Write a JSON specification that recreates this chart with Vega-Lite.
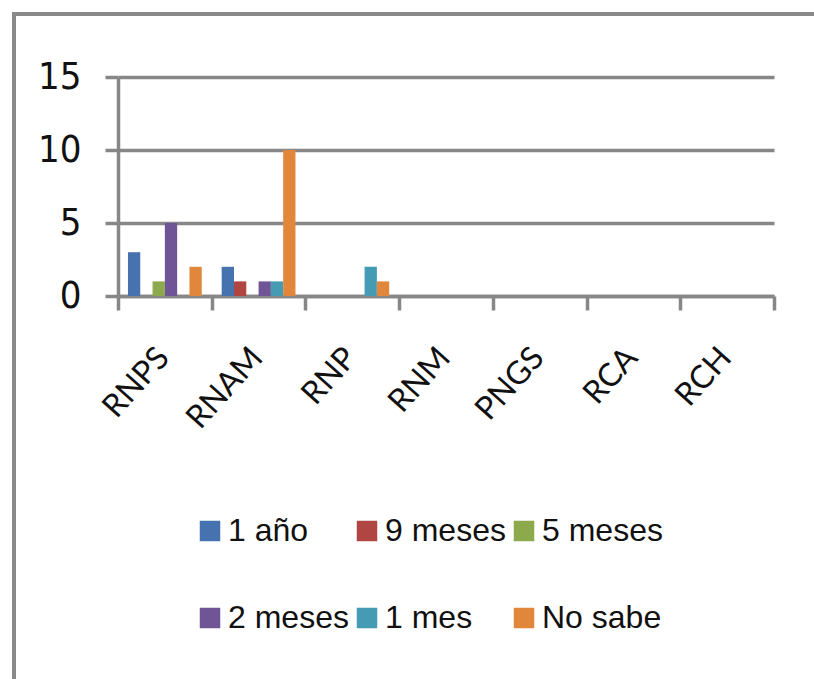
{
  "$schema": "https://vega.github.io/schema/vega-lite/v6.json",
  "autosize": "none",
  "width": 656,
  "height": 219,
  "padding": {"left": 118, "top": 77, "right": 40, "bottom": 383},
  "background": "#ffffff",
  "config": {
    "view": {"stroke": null},
    "axis": {"labelColor": "#111111"},
    "legend": {"strokeWidth": 4}
  },
  "data": {
    "values": [
      {"registro": "RNPS", "periodo": "1 año", "n": 3},
      {"registro": "RNPS", "periodo": "9 meses", "n": 0},
      {"registro": "RNPS", "periodo": "5 meses", "n": 1},
      {"registro": "RNPS", "periodo": "2 meses", "n": 5},
      {"registro": "RNPS", "periodo": "1 mes", "n": 0},
      {"registro": "RNPS", "periodo": "No sabe", "n": 2},
      {"registro": "RNAM", "periodo": "1 año", "n": 2},
      {"registro": "RNAM", "periodo": "9 meses", "n": 1},
      {"registro": "RNAM", "periodo": "5 meses", "n": 0},
      {"registro": "RNAM", "periodo": "2 meses", "n": 1},
      {"registro": "RNAM", "periodo": "1 mes", "n": 1},
      {"registro": "RNAM", "periodo": "No sabe", "n": 10},
      {"registro": "RNP", "periodo": "1 año", "n": 0},
      {"registro": "RNP", "periodo": "9 meses", "n": 0},
      {"registro": "RNP", "periodo": "5 meses", "n": 0},
      {"registro": "RNP", "periodo": "2 meses", "n": 0},
      {"registro": "RNP", "periodo": "1 mes", "n": 2},
      {"registro": "RNP", "periodo": "No sabe", "n": 1},
      {"registro": "RNM", "periodo": "1 año", "n": 0},
      {"registro": "RNM", "periodo": "9 meses", "n": 0},
      {"registro": "RNM", "periodo": "5 meses", "n": 0},
      {"registro": "RNM", "periodo": "2 meses", "n": 0},
      {"registro": "RNM", "periodo": "1 mes", "n": 0},
      {"registro": "RNM", "periodo": "No sabe", "n": 0},
      {"registro": "PNGS", "periodo": "1 año", "n": 0},
      {"registro": "PNGS", "periodo": "9 meses", "n": 0},
      {"registro": "PNGS", "periodo": "5 meses", "n": 0},
      {"registro": "PNGS", "periodo": "2 meses", "n": 0},
      {"registro": "PNGS", "periodo": "1 mes", "n": 0},
      {"registro": "PNGS", "periodo": "No sabe", "n": 0},
      {"registro": "RCA", "periodo": "1 año", "n": 0},
      {"registro": "RCA", "periodo": "9 meses", "n": 0},
      {"registro": "RCA", "periodo": "5 meses", "n": 0},
      {"registro": "RCA", "periodo": "2 meses", "n": 0},
      {"registro": "RCA", "periodo": "1 mes", "n": 0},
      {"registro": "RCA", "periodo": "No sabe", "n": 0},
      {"registro": "RCH", "periodo": "1 año", "n": 0},
      {"registro": "RCH", "periodo": "9 meses", "n": 0},
      {"registro": "RCH", "periodo": "5 meses", "n": 0},
      {"registro": "RCH", "periodo": "2 meses", "n": 0},
      {"registro": "RCH", "periodo": "1 mes", "n": 0},
      {"registro": "RCH", "periodo": "No sabe", "n": 0}
    ]
  },
  "mark": {"type": "bar", "strokeWidth": 0},
  "encoding": {
    "x": {
      "field": "registro",
      "type": "nominal",
      "sort": null,
      "scale": {
        "domain": ["RNPS", "RNAM", "RNP", "RNM", "PNGS", "RCA", "RCH"],
        "paddingInner": 0,
        "paddingOuter": 0
      },
      "axis": {
        "title": null,
        "tickBand": "extent",
        "ticks": true,
        "tickSize": 14,
        "tickWidth": 3.5,
        "tickColor": "#878787",
        "domain": true,
        "domainColor": "#878787",
        "domainWidth": 3.5,
        "labelAngle": -48,
        "labelAlign": "right",
        "labelBaseline": "middle",
        "labelFont": "Lato",
        "labelFontSize": 32,
        "labelPadding": 42,
        "labelOffset": -2
      }
    },
    "xOffset": {
      "field": "periodo",
      "type": "nominal",
      "sort": null,
      "scale": {
        "domain": ["1 año", "9 meses", "5 meses", "2 meses", "1 mes", "No sabe"],
        "paddingInner": 0,
        "paddingOuter": 0.81
      }
    },
    "y": {
      "field": "n",
      "type": "quantitative",
      "scale": {"domain": [0, 15], "nice": false},
      "axis": {
        "title": null,
        "values": [0, 5, 10, 15],
        "grid": true,
        "gridColor": "#878787",
        "gridWidth": 3.5,
        "domain": true,
        "domainColor": "#878787",
        "domainWidth": 3.5,
        "ticks": true,
        "tickSize": 13,
        "tickWidth": 3.5,
        "tickColor": "#878787",
        "labelFont": "DejaVu Sans Condensed, Liberation Sans",
        "labelFontSize": 38,
        "labelPadding": 24
      }
    },
    "color": {
      "field": "periodo",
      "type": "nominal",
      "sort": null,
      "scale": {
        "domain": ["1 año", "9 meses", "5 meses", "2 meses", "1 mes", "No sabe"],
        "range": ["#4673AF", "#AF4641", "#8CAA4B", "#705596", "#469BB4", "#E1873C"]
      },
      "legend": {
        "orient": "none",
        "direction": "horizontal",
        "legendX": -104,
        "legendY": -63,
        "padding": 180,
        "strokeColor": "#8a8a8a",
        "cornerRadius": 0,
        "title": " ",
        "titleFontSize": 10,
        "titlePadding": 311,
        "columns": 3,
        "columnPadding": 2,
        "rowPadding": 55,
        "symbolType": "square",
        "symbolSize": 420,
        "symbolStrokeWidth": 0,
        "labelFont": "Liberation Sans",
        "labelFontSize": 32,
        "labelColor": "#111111",
        "labelOffset": 2,
        "labelLimit": 300
      }
    }
  }
}
